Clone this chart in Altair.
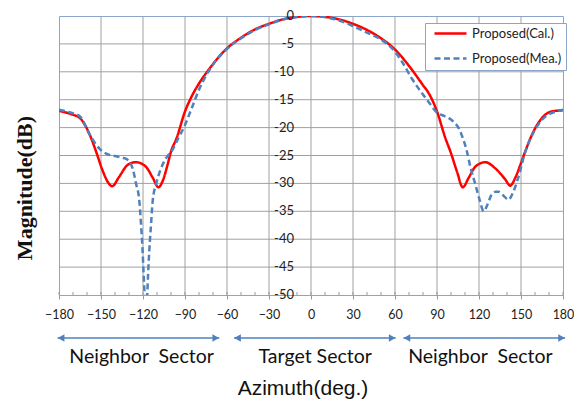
import altair as alt
import pandas as pd

# ---------------- data ----------------
series_names = ["Proposed(Cal.)", "Proposed(Mea.)"]

cal_az = [-180, -175, -170, -165, -158, -153.5, -149, -145, -142, -137, -131, -125, -118, -113,
          -109, -106, -102.5, -100, -96, -90, -85, -80, -73, -60, -50, -40, -30, -20, -10, 0,
          10, 20, 30, 40, 50, 60, 72, 80, 84, 90, 96, 99.6, 104.3, 108.4, 112.6, 117.4, 124.5,
          131.6, 138.8, 142.3, 145.9, 149.5, 153, 157.8, 164.9, 172, 180]
cal_db = [-17.0, -17.3, -17.7, -18.3, -21.3, -24.3, -27.6, -29.8, -30.5, -28.8, -26.7, -26.2, -27.0, -29.0,
          -30.7, -29.6, -26.7, -24.3, -21.9, -17.1, -14.3, -12.1, -9.6, -5.8, -3.9, -2.4, -1.4, -0.6, -0.15, 0.0,
          -0.15, -0.6, -1.4, -2.5, -4.0, -6.0, -9.6, -12.4, -13.8, -17.1, -21.9, -24.3, -27.9, -30.7, -29.0, -27.0, -26.2,
          -27.3, -29.3, -30.4, -29.0, -26.7, -24.3, -21.3, -18.3, -17.1, -16.9]

mea_az = [-180, -172, -165, -158, -151, -145, -140, -135, -132, -129.5, -127.4, -125, -122.6, -121.5,
          -120.3, -119.5, -118.8, -118, -117.2, -116.4, -115.5, -114.3, -113.1, -110.5, -108, -103.6,
          -99, -95, -90.5, -85, -80, -75, -70, -60, -50, -40, -30, -20, -10, 0,
          10, 20, 30, 40, 48.5, 60, 66, 72, 78, 84, 90, 95, 98.5, 102, 105.5, 108, 111, 114, 117.4,
          120.5, 123.3, 126, 129, 132, 134, 137.5, 141, 144.5, 148, 153, 158, 163, 168, 174, 180]
mea_db = [-16.8, -17.3, -18.0, -21.3, -23.8, -24.8, -25.1, -25.4, -25.6, -26.2, -27.3, -30.0, -33.2, -37.0,
          -42.0, -46.5, -50.0, -52.0, -51.0, -46.5, -42.0, -37.5, -33.2, -30.0, -27.9, -25.5,
          -24.0, -22.0, -19.8, -16.4, -13.2, -10.7, -8.7, -5.9, -4.0, -2.5, -1.5, -0.6, -0.2, 0.0,
          -0.2, -0.8, -1.8, -3.0, -4.0, -6.4, -8.6, -11.2, -13.4, -15.4, -17.3, -17.9, -18.3, -19.0, -20.1, -21.6, -23.9, -27.2, -30.2,
          -33.0, -35.0, -33.8, -32.0, -31.5, -31.5, -32.2, -32.9, -31.5, -29.0, -24.4, -21.3, -19.2, -17.9, -17.2, -16.8]

x_ticks = list(range(-180, 181, 30))
x_minor = list(range(-180, 181, 10))
x_grid = list(range(-150, 151, 30))
y_ticks = list(range(0, -51, -5))
y_grid = list(range(-45, 0, 5))

sector_labels = ["Neighbor\u00a0\u00a0Sector", "Target Sector", "Neighbor\u00a0\u00a0Sector"]
sector_start = [-181, -55, 66]
sector_end = [-65.5, 60.5, 181.5]
sector_center = [-121, 3, 121]

# ---------------- styling ----------------
RED = "#FF0000"
BLUE = "#4F81BD"
FRAME = "#8AA4CC"
GRID = "#A0A0A0"
W, H = 504, 279

xscale = alt.Scale(domain=[-180, 180], nice=False, zero=False)
yscale = alt.Scale(domain=[-50, 0], nice=False, zero=False)

xaxis = alt.Axis(
    values=x_ticks, grid=False, title=None, tickSize=4, tickColor="#999999",
    domainColor=FRAME, labelFont="Lato", labelFontSize=12.5, labelColor="#222222",
    labelPadding=9, labelFlush=False, labelOverlap=False)

lines_df = pd.DataFrame({
    "az": cal_az + mea_az,
    "db": cal_db + mea_db,
    "series": [series_names[0]] * len(cal_az) + [series_names[1]] * len(mea_az),
})

legend = alt.Legend(
    orient="none", legendX=366, legendY=7, title=None,
    labelFont="Lato", labelFontSize=13, labelColor="#222222",
    labelExpr="datum.label + '    '",
    symbolType="M-0.25,0H7.75", symbolSize=64, symbolStrokeWidth=2.5,
    strokeColor=FRAME, fillColor="white", padding=4, rowPadding=11,
    labelOffset=30,
)

grid_v = alt.Chart(pd.DataFrame({"g": x_grid})).mark_rule(color=GRID, strokeWidth=1).encode(
    x=alt.X("g:Q", scale=xscale, axis=xaxis))
grid_h = alt.Chart(pd.DataFrame({"g": y_grid})).mark_rule(color=GRID, strokeWidth=1).encode(
    y=alt.Y("g:Q", scale=yscale, axis=None))

lines = alt.Chart(lines_df).mark_line(strokeWidth=2.5, interpolate="monotone", clip=True).encode(
    x=alt.X("az:Q", scale=xscale, axis=xaxis),
    y=alt.Y("db:Q", scale=yscale, axis=None),
    color=alt.Color("series:N", scale=alt.Scale(domain=series_names, range=[RED, BLUE]), legend=legend),
    strokeDash=alt.StrokeDash("series:N", scale=alt.Scale(domain=series_names, range=[[1, 0], [6, 3.5]]),
                              legend=legend),
)

minor = alt.Chart(pd.DataFrame({"m": x_minor})).mark_rule(color="#999999", strokeWidth=1).encode(
    x="m:Q", y=alt.value(H), y2=alt.value(H - 3))

ylab_df = pd.DataFrame({"v": y_ticks, "t": [str(v) for v in y_ticks]})
ylabels = alt.Chart(ylab_df).mark_text(align="right", baseline="middle", dx=-17, font="Lato",
                                       fontSize=13, color="#222222").encode(
    x=alt.datum(0), y="v:Q", text="t:N")

sec_df = pd.DataFrame({"s": sector_start, "e": sector_end, "c": sector_center, "t": sector_labels})
arrows = alt.Chart(sec_df).mark_rule(color=BLUE, strokeWidth=1.5, clip=False).encode(
    x="s:Q", x2="e:Q", y=alt.value(H + 43))
head_l = alt.Chart(sec_df).mark_point(shape="triangle-left", filled=True, size=60, color=BLUE,
                                      opacity=1, clip=False).encode(
    x="s:Q", y=alt.value(H + 43), xOffset=alt.value(3.5))
head_r = alt.Chart(sec_df).mark_point(shape="triangle-right", filled=True, size=60, color=BLUE,
                                      opacity=1, clip=False).encode(
    x="e:Q", y=alt.value(H + 43), xOffset=alt.value(-3.5))
sec_text = alt.Chart(sec_df).mark_text(font="Lato", fontSize=19.5, color="#111111", baseline="middle",
                                       align="center").encode(
    x="c:Q", y=alt.value(H + 62), text="t:N")

az_title = alt.Chart(pd.DataFrame({"t": ["Azimuth(deg.)"]})).mark_text(
    font="Liberation Sans", fontSize=21, color="#111111", baseline="middle", align="center").encode(
    x=alt.value(244), y=alt.value(H + 94), text="t:N")

mag_title = alt.Chart(pd.DataFrame({"t": ["Magnitude(dB)"]})).mark_text(
    font="Liberation Serif", fontSize=22, fontWeight="bold", color="#111111", baseline="middle",
    align="center", angle=270).encode(
    x=alt.value(-34), y=alt.value(172), text="t:N")

chart = alt.layer(
    grid_v, grid_h, minor, lines, ylabels, arrows, head_l, head_r, sec_text, az_title, mag_title
).properties(
    width=W, height=H, autosize=alt.AutoSizeParams(type="none"),
    padding={"left": 51, "top": 8, "right": 11, "bottom": 106},
    background="white",
).configure_view(stroke=FRAME, strokeWidth=1)

chart.save("out.html", embed_options={"renderer": "svg", "actions": False})
